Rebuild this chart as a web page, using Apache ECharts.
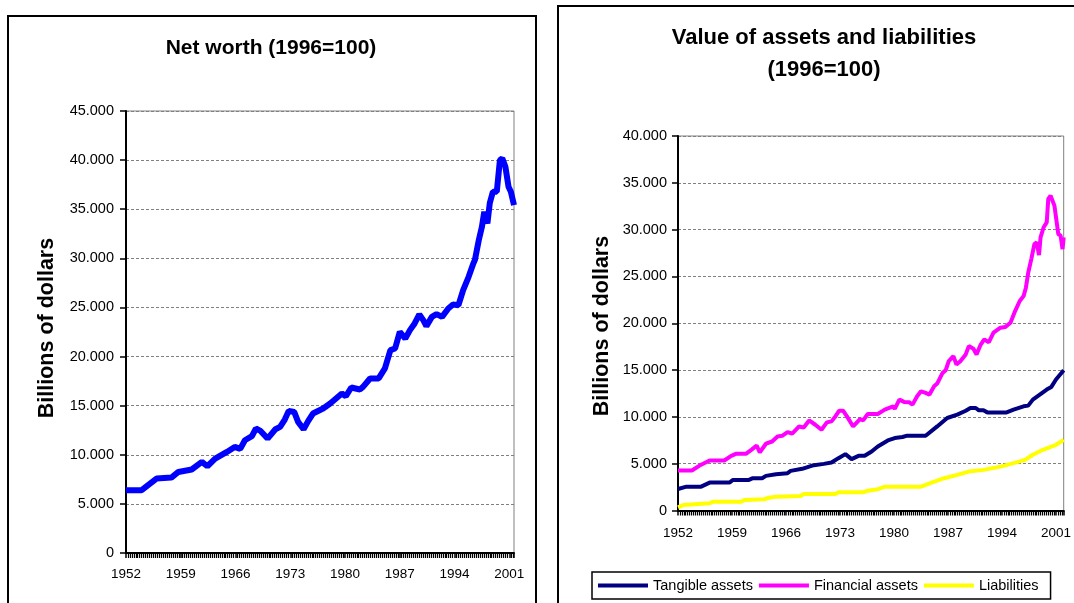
<!DOCTYPE html>
<html>
<head>
<meta charset="utf-8">
<script src="https://cdn.jsdelivr.net/npm/echarts@6/dist/echarts.min.js"></script>
<style>
  html, body { margin: 0; padding: 0; background: #fff; }
  #main { width: 1074px; height: 603px; }
</style>
</head>
<body>
<div id="main"></div>
<script>
// Household balance sheet, two panels side by side

const BASE_YEAR = 1952;
const YEAR_STEP = 7;

// left panel: net worth
const netWorthYears = [1952.0, 1954.0, 1955.9, 1957.8, 1958.7, 1960.4, 1961.7, 1962.4, 1963.4, 1964.9,
  1965.9, 1966.6, 1967.2, 1968.1, 1968.6, 1969.2, 1970.1, 1971.1, 1971.7, 1972.3,
  1972.8, 1973.5, 1974.0, 1974.7, 1975.3, 1975.9, 1977.2, 1978.1, 1979.6, 1980.1,
  1980.8, 1981.9, 1982.3, 1983.2, 1984.3, 1985.1, 1985.8, 1986.4, 1987.0, 1987.7,
  1988.3, 1988.9, 1989.5, 1990.0, 1990.4, 1991.1, 1991.7, 1992.4, 1993.2, 1993.8,
  1994.5, 1995.1, 1995.8, 1996.4, 1996.6, 1997.1, 1997.5, 1997.8, 1998.2, 1998.5,
  1998.9, 1999.4, 1999.8, 2000.1, 2000.5, 2000.9, 2001.2, 2001.6];
const netWorth = [6400, 6400, 7580, 7680, 8250, 8500, 9270, 8830, 9600, 10290,
  10800, 10600, 11480, 11890, 12670, 12430, 11650, 12600, 12840, 13590,
  14470, 14360, 13350, 12600, 13450, 14200, 14710, 15220, 16240, 15960,
  16850, 16650, 16910, 17770, 17770, 18790, 20650, 20820, 22510, 21840,
  22690, 23370, 24290, 23710, 23100, 24040, 24320, 24040, 24900, 25300,
  25230, 26760, 28120, 29480, 29820, 31860, 33210, 34740, 33560, 35600,
  36780, 36780, 40000, 40180, 39320, 37290, 36780, 35420];

// right panel: assets and liabilities
const tangibleYears = [1952.0, 1953.1, 1955.0, 1956.1, 1958.7, 1959.1, 1961.2, 1961.7, 1962.9, 1963.4,
  1964.7, 1966.2, 1966.6, 1968.1, 1969.4, 1970.9, 1971.9, 1972.8, 1973.7, 1974.5,
  1975.4, 1976.2, 1977.1, 1977.9, 1979.2, 1980.1, 1981.1, 1981.6, 1984.1, 1985.6,
  1986.9, 1988.2, 1989.3, 1989.9, 1990.6, 1991.0, 1991.6, 1992.1, 1994.6, 1995.5,
  1996.8, 1997.4, 1998.0, 1998.9, 1999.8, 2000.4, 2001.0, 2002.0];
const tangible = [2300, 2550, 2550, 2980, 2980, 3270, 3270, 3450, 3450, 3700,
  3880, 3990, 4230, 4450, 4800, 4980, 5120, 5590, 6020, 5490,
  5840, 5840, 6300, 6840, 7480, 7740, 7850, 7980, 7980, 8980,
  9880, 10240, 10660, 10950, 10950, 10700, 10700, 10480, 10480, 10770,
  11130, 11200, 11840, 12380, 12920, 13200, 13990, 14980];

const financialYears = [1952.0, 1953.8, 1954.8, 1956.1, 1958.0, 1958.9, 1959.5, 1960.8, 1961.5, 1962.2,
  1962.6, 1963.4, 1964.2, 1964.9, 1965.5, 1966.2, 1966.8, 1967.7, 1968.3, 1969.0,
  1969.8, 1970.6, 1971.3, 1971.9, 1972.4, 1972.9, 1973.4, 1973.9, 1974.7, 1975.6,
  1976.0, 1976.6, 1977.9, 1978.8, 1979.9, 1980.1, 1980.7, 1981.3, 1982.0, 1982.4,
  1983.0, 1983.5, 1984.1, 1984.6, 1985.2, 1985.6, 1986.3, 1986.7, 1987.1, 1987.7,
  1988.1, 1988.6, 1989.3, 1989.7, 1990.3, 1990.7, 1991.2, 1991.7, 1992.3, 1992.9,
  1993.8, 1994.4, 1995.1, 1995.7, 1996.3, 1996.8, 1997.1, 1997.4, 1997.8, 1998.2,
  1998.5, 1998.8, 1999.0, 1999.4, 1999.8, 2000.0, 2000.3, 2000.8, 2001.3, 2001.6,
  2001.85, 2002.0];
const financial = [4270, 4270, 4800, 5340, 5340, 5840, 6050, 6050, 6480, 6950,
  6200, 7130, 7370, 7910, 7980, 8380, 8200, 8980, 8870, 9620,
  9160, 8630, 9410, 9520, 10050, 10660, 10660, 10050, 8980, 9770,
  9620, 10310, 10310, 10770, 11130, 10850, 11840, 11600, 11550, 11310,
  12200, 12730, 12560, 12380, 13270, 13560, 14700, 14980, 15950, 16480,
  15590, 15950, 16670, 17560, 17280, 16670, 17660, 18270, 17980, 18990,
  19530, 19590, 20060, 21300, 22380, 22900, 23800, 25400, 26850, 28460,
  28640, 27280, 29170, 30250, 30780, 33280, 33630, 32560, 29530, 29350,
  27920, 29170];

const liabilitiesYears = [1952.0, 1952.7, 1956.1, 1956.5, 1960.2, 1960.6, 1963.2, 1963.8, 1964.7, 1967.9,
  1968.3, 1972.4, 1972.8, 1976.0, 1976.6, 1977.9, 1978.8, 1983.5, 1984.7, 1986.5,
  1988.2, 1989.7, 1991.6, 1993.8, 1995.5, 1997.0, 1998.0, 1999.3, 2001.0, 2002.0];
const liabilities = [340, 590, 770, 940, 940, 1130, 1200, 1370, 1480, 1550,
  1770, 1770, 1950, 1950, 2120, 2270, 2550, 2550, 2920, 3450,
  3800, 4160, 4340, 4690, 5060, 5410, 5950, 6480, 7020, 7550];

const COLORS = {
  netWorth: '#0000ff', tangible: '#000080', financial: '#ff00ff', liabilities: '#ffff00',
  grid: '#808080', axis: '#000000',
};
const FONT = "'Liberation Sans', Arial, sans-serif";

function toPairs(years, vals) {
  return years.map((y, i) => [y - BASE_YEAR, vals[i]]);
}

function fmtThousands(v) {
  return v === 0 ? '0' : (v / 1000).toFixed(3);
}

function xAxisOf(gridIndex, max, margin) {
  return {
    type: 'value', gridIndex, min: 0, max, interval: YEAR_STEP,
    axisLine: { lineStyle: { color: COLORS.axis, width: 2 } },
    axisTick: { show: true, length: 5, lineStyle: { color: COLORS.axis, width: 1.5 } },
    minorTick: { show: true, splitNumber: 28, length: 5, lineStyle: { color: COLORS.axis, width: 1.2 } },
    axisLabel: {
      color: '#000', fontSize: 13.5, fontFamily: FONT, margin,
      showMaxLabel: false,
      formatter: v => (v % YEAR_STEP === 0 ? String(BASE_YEAR + v) : ''),
    },
    splitLine: { show: false },
  };
}

function yAxisOf(gridIndex, max, margin) {
  return {
    type: 'value', gridIndex, min: 0, max, interval: 5000,
    axisLine: { show: true, lineStyle: { color: COLORS.axis, width: 2 } },
    axisTick: { show: true, length: 6, lineStyle: { color: COLORS.axis, width: 1.5 } },
    axisLabel: { color: '#000', fontSize: 14.5, fontFamily: FONT, margin, formatter: fmtThousands },
    splitLine: { show: true, lineStyle: { color: COLORS.grid, type: [3, 2], width: 1 } },
  };
}

function lineSeries(name, idx, data, color, width) {
  return {
    name, type: 'line', xAxisIndex: idx, yAxisIndex: idx, data,
    showSymbol: false, symbol: 'none', smooth: false,
    lineStyle: { color, width }, itemStyle: { color },
  };
}

const chart = echarts.init(document.getElementById('main'), null, { renderer: 'canvas' });

chart.setOption({
  backgroundColor: '#fff',
  animation: false,
  textStyle: { fontFamily: FONT },
  grid: [
    { left: 126, top: 111, width: 388, height: 442, show: true, borderColor: COLORS.grid, borderWidth: 1 },
    { left: 678, top: 136, width: 390, height: 374.5, show: true, borderColor: COLORS.grid, borderWidth: 1 },
  ],
  xAxis: [xAxisOf(0, 49.6, 14), xAxisOf(1, 50, 16)],
  yAxis: [yAxisOf(0, 45000, 12), yAxisOf(1, 40000, 11)],
  legend: {
    data: ['Tangible assets', 'Financial assets', 'Liabilities'],
    left: 592, top: 572,
    icon: 'rect', itemWidth: 50, itemHeight: 4, itemGap: 6,
    padding: [6, 12, 6, 6],
    borderColor: '#000', borderWidth: 1.5,
    textStyle: { color: '#000', fontSize: 14.5, fontFamily: FONT },
  },
  graphic: [
    { type: 'rect', shape: { x: 8, y: 16, width: 528, height: 620 },
      style: { fill: 'none', stroke: '#000', lineWidth: 2 } },
    { type: 'rect', shape: { x: 558, y: 6, width: 540, height: 630 },
      style: { fill: 'none', stroke: '#000', lineWidth: 2 } },
    { type: 'text', x: 271, y: 48,
      style: { text: 'Net worth (1996=100)', font: `bold 21px ${FONT}`, fill: '#000',
        textAlign: 'center', textVerticalAlign: 'middle' } },
    { type: 'text', x: 824, y: 54,
      style: { text: 'Value of assets and liabilities\n(1996=100)', font: `bold 22px ${FONT}`, fill: '#000',
        lineHeight: 32, textAlign: 'center', textVerticalAlign: 'middle' } },
    { type: 'text', x: 47, y: 328, rotation: Math.PI / 2,
      style: { text: 'Billions of dollars', font: `bold 21.5px ${FONT}`, fill: '#000',
        textAlign: 'center', textVerticalAlign: 'middle' } },
    { type: 'text', x: 602, y: 326, rotation: Math.PI / 2,
      style: { text: 'Billions of dollars', font: `bold 21.5px ${FONT}`, fill: '#000',
        textAlign: 'center', textVerticalAlign: 'middle' } },
  ],
  series: [
    lineSeries('Net worth', 0, toPairs(netWorthYears, netWorth), COLORS.netWorth, 6),
    lineSeries('Tangible assets', 1, toPairs(tangibleYears, tangible), COLORS.tangible, 4),
    lineSeries('Financial assets', 1, toPairs(financialYears, financial), COLORS.financial, 4),
    lineSeries('Liabilities', 1, toPairs(liabilitiesYears, liabilities), COLORS.liabilities, 4),
  ],
});
</script>
</body>
</html>
